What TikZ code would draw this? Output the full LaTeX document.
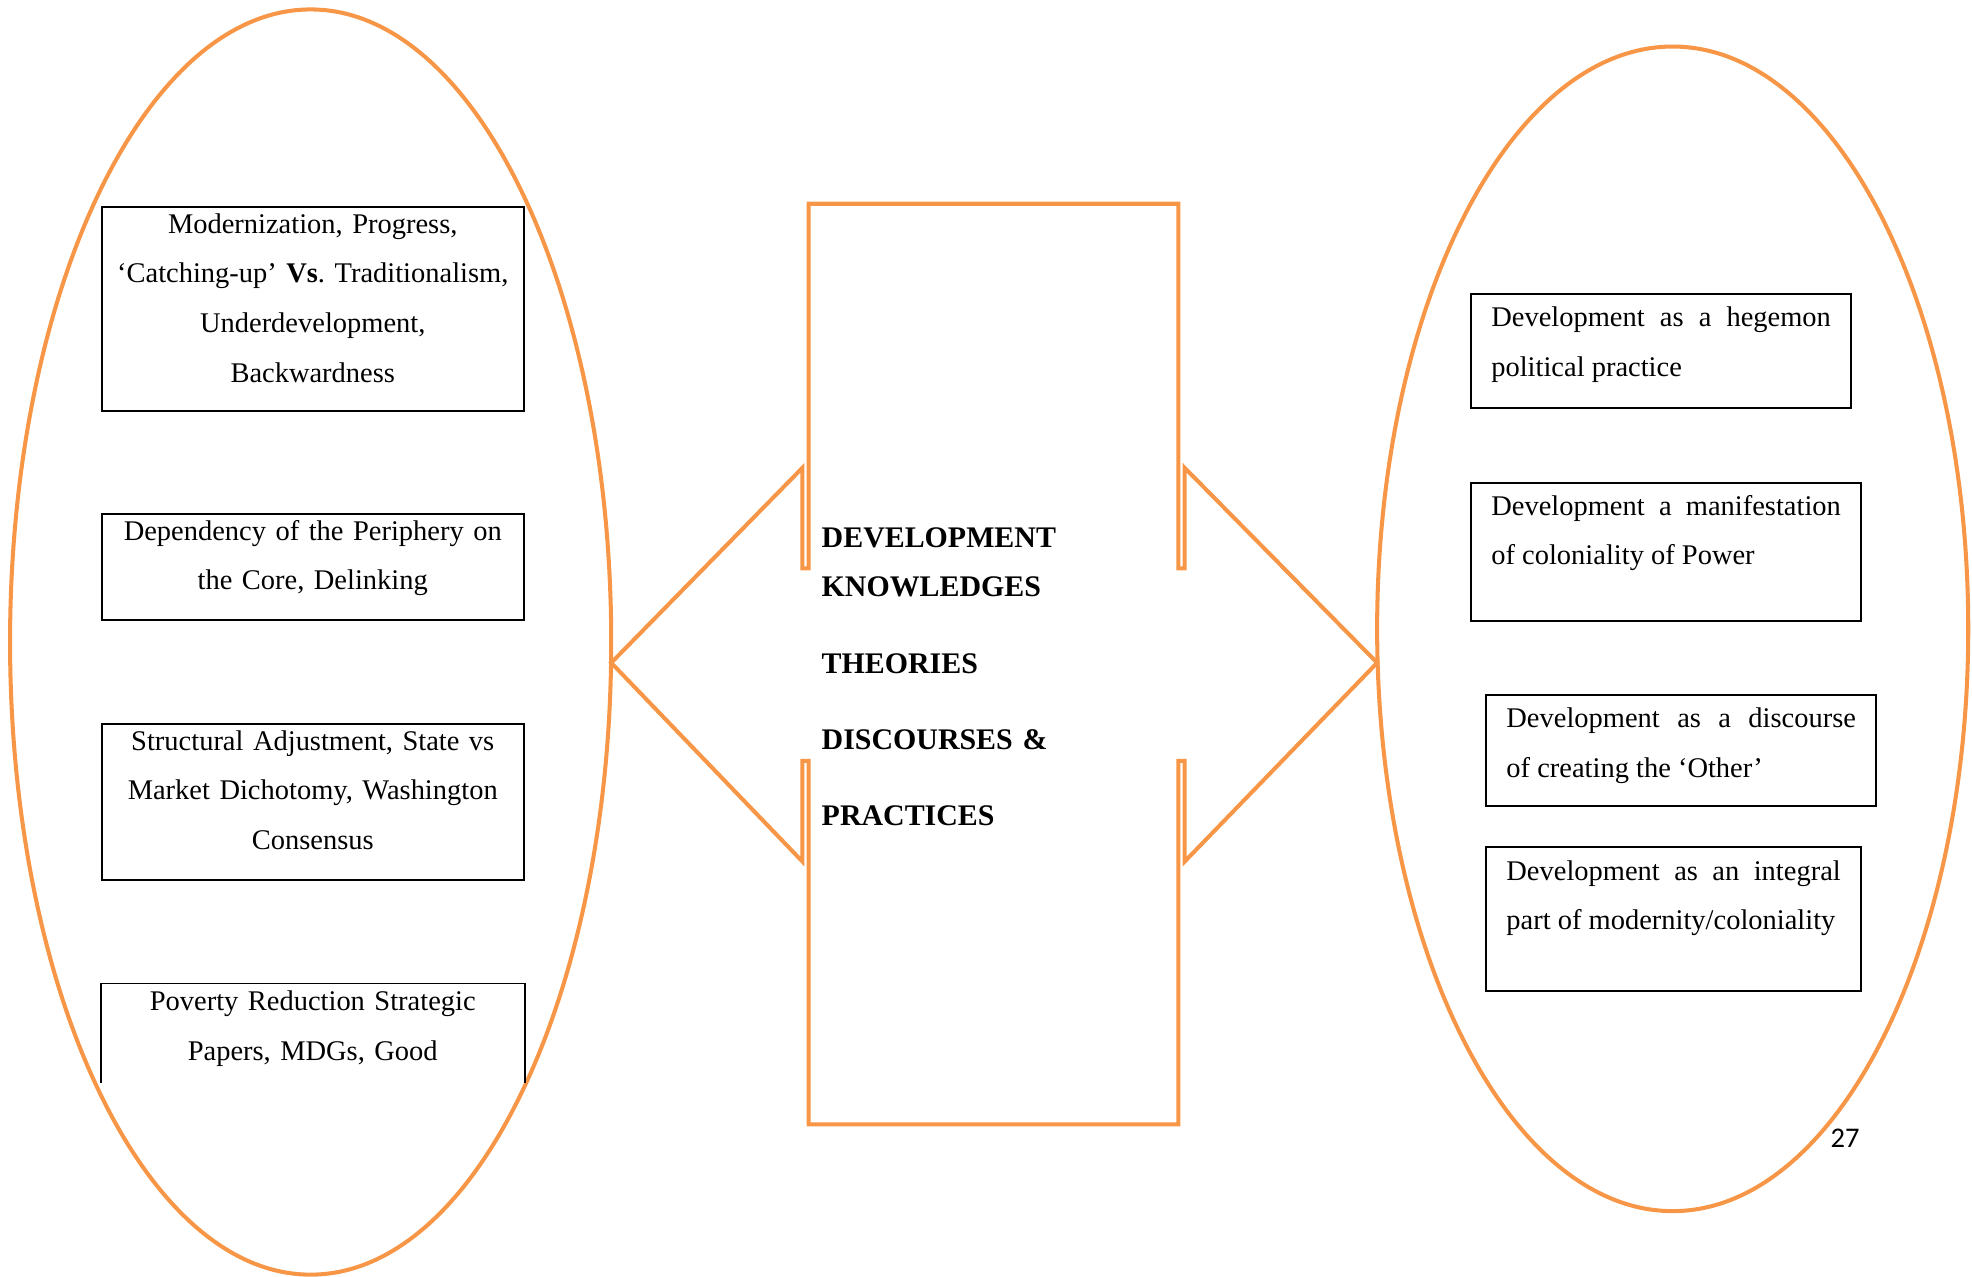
\documentclass[tikz,border=0pt]{standalone}
\usepackage{fontspec}
\setmainfont{Liberation Serif}
\newfontfamily\pagefont{Carlito}
\usepackage{tikz}
\usetikzlibrary{positioning}
\definecolor{devorange}{RGB}{247,150,70}
\frenchspacing

\begin{document}
\begin{tikzpicture}[x=0.53pt,y=-0.53pt]
	\useasboundingbox (0,0) rectangle (1568,1015);

	\begin{scope}[draw=devorange, line width=1.7pt]
		\draw (247,510.5) ellipse [x radius=239, y radius=503];
		\draw (1330,500) ellipse [x radius=235, y radius=463];
		\draw[line join=miter] (643,162) -- (937,162) -- (937,452) -- (942,452) -- (942,372)
			-- (1095,527) -- (942,685) -- (942,605) -- (937,605) -- (937,894)
			-- (643,894) -- (643,605) -- (638,605) -- (638,685) -- (486,527)
			-- (638,372) -- (638,452) -- (643,452) -- cycle;
	\end{scope}

	\node[anchor=north west, inner sep=0pt, text width=132pt, align=left,
		font=\bfseries\fontsize{12.6}{20.7}\selectfont, text height=10pt] (centre) at (653,416)
		{DEVELOPMENT\\ KNOWLEDGES\\[11.6pt] THEORIES\\[11.6pt] DISCOURSES \&\\[11.1pt] PRACTICES};

	\begin{scope}[every node/.style={draw, line width=0.8pt, anchor=north west,
			font=\fontsize{12}{20.9}\selectfont, inner xsep=0pt, inner ysep=0pt,
			text width=178pt, align=center, text height=11pt}]
		\node[text depth=74.9pt] (modern) at (80,164)
			{Modernization, Progress,\\ `Catching-up' \textbf{Vs}. Traditionalism,\\ Underdevelopment,\\ Backwardness};
		\node[text depth=33.5pt] (depend) at (80,408)
			{Dependency of the Periphery on\\ the Core, Delinking};
		\node[text depth=54.7pt] (adjust) at (80,575)
			{Structural Adjustment, State vs\\ Market Dichotomy, Washington\\ Consensus};
		\node[draw=none, text depth=30.3pt] (poverty) at (80,782)
			{Poverty Reduction Strategic\\ Papers, MDGs, Good};
	\end{scope}
	\draw[line width=0.8pt] (poverty.south west) -- (poverty.north west) -- (poverty.north east) -- (poverty.south east);

	\begin{scope}[every node/.style={draw, line width=0.8pt, anchor=north west,
			font=\fontsize{12}{20.9}\selectfont, inner xsep=8.5pt, inner ysep=0pt,
			align=justify, text height=13.8pt}]
		\node[text width=143.1pt, text depth=34.4pt] (hegemon) at (1169,233)
			{Development as a hegemon\linebreak political practice};
		\node[text width=147.3pt, text depth=44.5pt] (power) at (1169,383)
			{Development a manifestation\linebreak of coloniality of Power};
		\node[text width=147.3pt, text depth=32.8pt] (other) at (1181,552)
			{Development as a discourse\linebreak of creating the `Other'};
		\node[text width=140.9pt, text depth=46.6pt] (integral) at (1181,673)
			{Development as an integral\linebreak part of modernity/coloniality};
	\end{scope}

	\node[font=\pagefont\fontsize{12}{14}\selectfont, inner sep=0pt] (pagenum) at (1467,905) {27};
\end{tikzpicture}
\end{document}
